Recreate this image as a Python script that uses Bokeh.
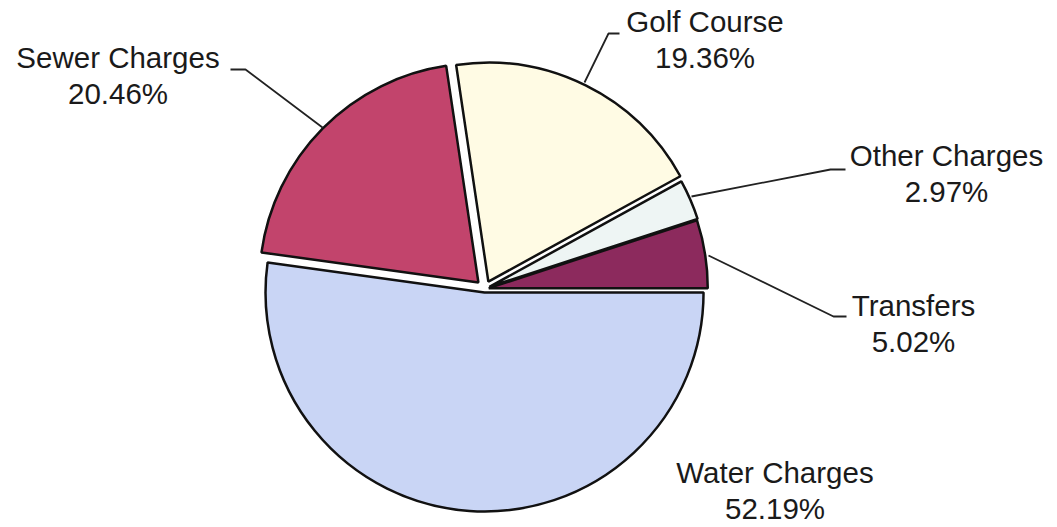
import math
from bokeh.plotting import figure
from bokeh.models import Range1d, ColumnDataSource
from bokeh.core.properties import value
from bokeh.embed import file_html
from bokeh.resources import INLINE

# ---- data ----
categories = ["Transfers", "Other Charges", "Golf Course", "Sewer Charges", "Water Charges"]
percentages = [5.02, 2.97, 19.36, 20.46, 52.19]
pct_labels = ["5.02%", "2.97%", "19.36%", "20.46%", "52.19%"]

# ---- style ----
colors = ["#8c2a5d", "#eef5f4", "#fffbe4", "#c2446c", "#c9d5f5"]
explode = [4.0, 5.0, 8.0, 9.0, 3.7]

W, H = 1057, 527
cx, cy = 484.3, H - 288.3
R = 219

# label anchors (center x, baseline of first line, screen y)
label_pos = [(913, 317), (946, 167), (704.5, 33), (117.5, 69), (774.5, 484)]
line_gap = 36
text_shift = 12  # renderer baseline correction
# leader lines (screen coords), None for no leader
leaders = [
    [(708, 255), (833, 316), (846, 316)],
    [(691, 196), (830, 169), (845, 169)],
    [(584, 82), (608, 33), (619, 33)],
    [(322, 127), (245, 69), (230, 69)],
    None,
]

total = sum(percentages)
starts, ends, xs, ys = [], [], [], []
a = 0.0
for v, d in zip(percentages, explode):
    span = v / total * 2 * math.pi
    mid = a + span / 2
    starts.append(a)
    ends.append(a + span)
    xs.append(cx + d * math.cos(mid))
    ys.append(cy + d * math.sin(mid))
    a += span

p = figure(width=W, height=H, x_range=Range1d(0, W), y_range=Range1d(0, H),
           output_backend="svg", toolbar_location=None, min_border=0)
p.axis.visible = False
p.grid.visible = False
p.outline_line_color = None
p.background_fill_color = "white"
p.border_fill_color = "white"

src = ColumnDataSource(dict(x=xs, y=ys, s=starts, e=ends, c=colors, cat=categories))
p.wedge(x="x", y="y", radius=R, start_angle="s", end_angle="e", direction="anticlock",
        fill_color="c", line_color="#111111", line_width=2.5, source=src)

lx, ly = [], []
for ld in leaders:
    if ld:
        lx.append([pt[0] for pt in ld])
        ly.append([H - pt[1] for pt in ld])
p.multi_line(lx, ly, line_color="#222222", line_width=1.8)

tx = [lp[0] for lp in label_pos]
ty1 = [H - lp[1] + text_shift for lp in label_pos]
ty2 = [H - lp[1] - line_gap + text_shift for lp in label_pos]
common = dict(text_align="center", text_baseline="alphabetic",
              text_font=value("Liberation Sans"), text_font_size=value("29.5px"),
              text_color="#1a1a1a")
p.text(x=tx, y=ty1, text=categories, **common)
p.text(x=tx, y=ty2, text=pct_labels, **common)

open("out.html", "w").write(file_html(p, INLINE))
